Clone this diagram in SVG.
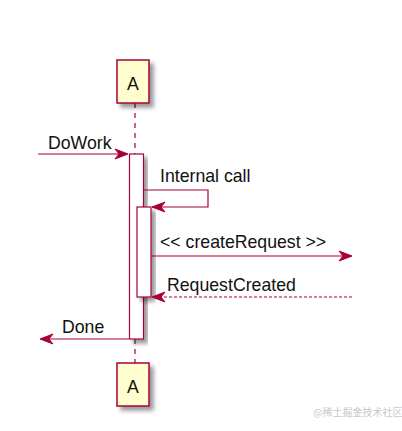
<svg xmlns="http://www.w3.org/2000/svg" width="402" height="431" viewBox="0 0 402 431">
<defs>
<filter id="sh" x="-20%" y="-20%" width="150%" height="150%">
<feGaussianBlur in="SourceAlpha" stdDeviation="2"/>
<feOffset dx="4" dy="4" result="b"/>
<feComponentTransfer><feFuncA type="linear" slope="0.4"/></feComponentTransfer>
<feMerge><feMergeNode/><feMergeNode in="SourceGraphic"/></feMerge>
</filter>
</defs>
<style>
.part{fill:#FEFECE;stroke:#A80036;stroke-width:1.5}
.act{fill:#FFFFFF;stroke:#A80036;stroke-width:1.2}
.life{stroke:#A80036;stroke-width:1.2;stroke-dasharray:5,5;fill:none}
.msg{stroke:#A80036;stroke-width:1.2;fill:none}
.dash{stroke-dasharray:3,2}
.head{fill:#A80036;stroke:#A80036;stroke-width:1}
text{font-family:"Liberation Sans",Arial,sans-serif;font-size:17.7px;fill:#111}
.wm{font-family:"Noto Sans CJK SC",sans-serif;font-size:10px;fill:#c8c8c8}
</style>
<rect width="402" height="431" fill="#fff"/>
<g id="lifeline">
<line class="life" x1="135" y1="103" x2="135" y2="154"/>
<line class="life" x1="135" y1="339" x2="135" y2="363"/>
</g>
<g id="A-head">
<rect class="part" x="117" y="60" width="32" height="43" filter="url(#sh)"/>
<text x="133" y="90" text-anchor="middle">A</text>
</g>
<g id="A-foot">
<rect class="part" x="117" y="363" width="32" height="43" filter="url(#sh)"/>
<text x="133" y="393" text-anchor="middle">A</text>
</g>
<g id="activation1">
<rect class="act" x="129.5" y="154" width="14" height="185" filter="url(#sh)"/>
</g>
<g id="activation2">
<rect class="act" x="137" y="207" width="14" height="90" filter="url(#sh)"/>
</g>
<g id="connectors">
<line class="msg" x1="38" y1="154" x2="127" y2="154"/>
<polygon class="head" points="115,149 128,154 115,159 119,154"/>
<text x="48" y="149">DoWork</text>

<polyline class="msg" points="144,190 208,190 208,207 152,207"/>
<polygon class="head" points="165,202 152,207 165,212 161,207"/>
<text x="160" y="182">Internal call</text>

<line class="msg" x1="151" y1="256" x2="351" y2="256"/>
<polygon class="head" points="339,251 352,256 339,261 343,256"/>
<text x="160" y="248">&lt;&lt; createRequest &gt;&gt;</text>

<line class="msg dash" x1="352" y1="297" x2="153" y2="297"/>
<polygon class="head" points="165,292 152,297 165,302 161,297"/>
<text x="167" y="291">RequestCreated</text>

<line class="msg" x1="129" y1="339" x2="41" y2="339"/>
<polygon class="head" points="53,334 40,339 53,344 49,339"/>
<text x="62" y="333">Done</text>
</g>
<text class="wm" x="313" y="416">@稀土掘金技术社区</text>
</svg>
